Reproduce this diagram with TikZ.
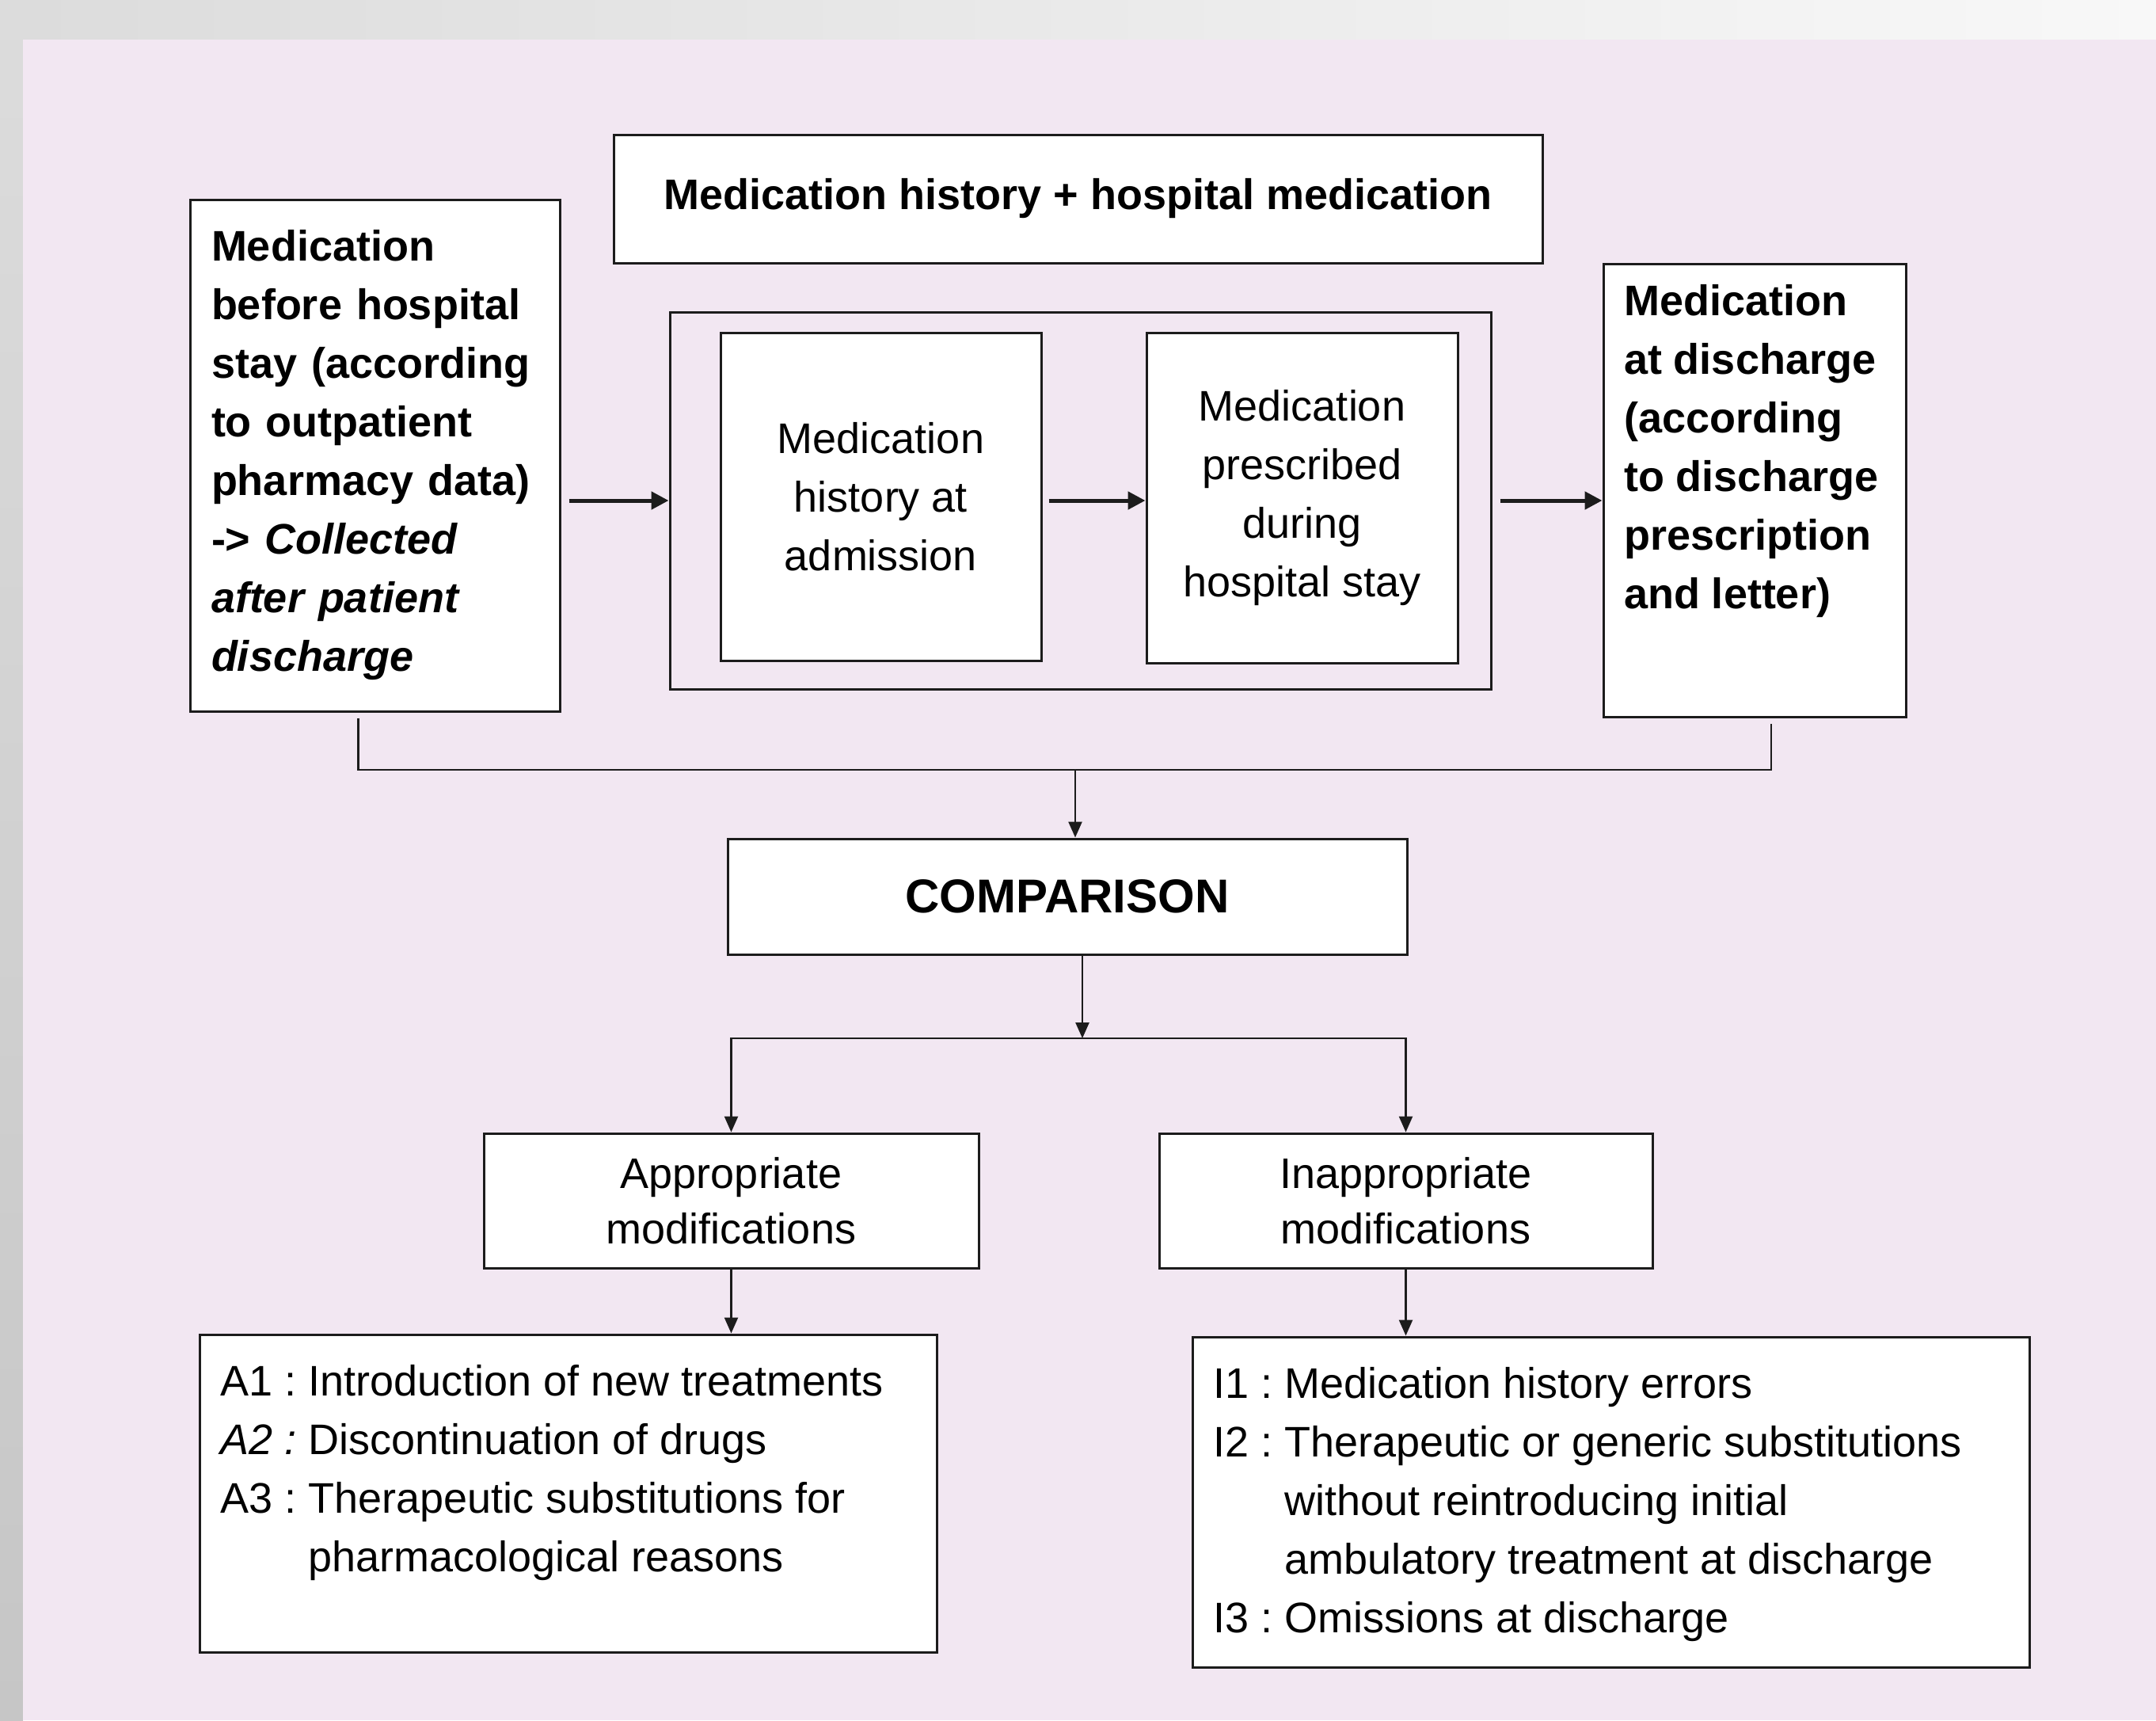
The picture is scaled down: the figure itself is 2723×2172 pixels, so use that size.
\documentclass[tikz,border=0pt]{standalone}
\usepackage{fontspec}
\setmainfont{Liberation Sans}
\usepackage{tikz}
\usetikzlibrary{arrows.meta,positioning,calc}
\definecolor{panelpink}{RGB}{242,231,242}
\definecolor{framegray}{RGB}{198,198,198}
\definecolor{stripgray}{RGB}{220,220,220}
\definecolor{stripwhite}{RGB}{248,248,248}
\definecolor{edge}{RGB}{28,28,28}
\newcommand{\boxfont}{\fontsize{54}{74}\selectfont}
\newcommand{\titlefont}{\fontsize{60}{72}\selectfont\bfseries}

\begin{document}
\begin{tikzpicture}[x=1pt, y=-1pt,
  box/.style={rectangle, draw=edge, fill=white, line width=3pt, inner sep=0pt, font=\boxfont},
  flow/.style={draw=edge, line width=5pt, -{Triangle[length=22pt,width=22pt]}},
  link/.style={draw=edge, line width=2.5pt},
  linkarrow/.style={link, -{Triangle[length=20pt,width=17pt]}}]
\useasboundingbox (0,0) rectangle (2723,2172);
\shade[top color=stripgray, bottom color=framegray] (0,0) rectangle (29,2172);
\shade[left color=stripgray, right color=stripwhite] (29,0) rectangle (2723,50);
\fill[panelpink] (29,50) rectangle (2723,2172);

\node[box, font=\boxfont\bfseries, minimum width=467pt, minimum height=646pt, text width=413pt, align=left] (before) at (473.5,575) {Medication\\ before hospital\\ stay (according\\ to outpatient\\ pharmacy data)\\ -> \textit{Collected}\\ \textit{after patient}\\ \textit{discharge}};
\node[box, font=\boxfont\bfseries, minimum width=1173pt, minimum height=162pt] (header) at (1361.5,251) {Medication history + hospital medication};
\node[box, fill=none, minimum width=1037pt, minimum height=476pt] (stay) at (1364.5,632) {};
\node[box, minimum width=405pt, minimum height=414pt, align=center] (admission) at (1112.5,627) {Medication\\ history at\\ admission};
\node[box, minimum width=393pt, minimum height=417pt, align=center] (during) at (1644.5,628.5) {Medication\\ prescribed\\ during\\ hospital stay};
\node[box, font=\boxfont\bfseries, inner sep=26pt] (discharge) at (2216,619) {\parbox[c][520pt][t]{330pt}{\raggedright Medication\\ at discharge\\ (according\\ to discharge\\ prescription\\ and letter)}};
\node[box, font=\titlefont, minimum width=858pt, minimum height=146pt] (comparison) at (1348,1132) {COMPARISON};
\node[box, font=\fontsize{54}{70}\selectfont, minimum width=625pt, minimum height=170pt, align=center] (appropriate) at (923.5,1516) {Appropriate\\ modifications};
\node[box, font=\fontsize{54}{70}\selectfont, minimum width=623pt, minimum height=170pt, align=center] (inappropriate) at (1775.5,1516) {Inappropriate\\ modifications};
\node[box, inner sep=26pt] (alist) at (717.5,1885.5) {\parbox[c][349pt][t]{879pt}{\begin{tabular}{@{}l@{\ }l@{}}A1 : & Introduction of new treatments\\ \textit{A2 :} & Discontinuation of drugs\\ A3 : & Therapeutic substitutions for\\ & pharmacological reasons\end{tabular}}};
\node[box, inner sep=26pt] (ilist) at (2034.5,1896.5) {\parbox[c][365pt][t]{1005pt}{\begin{tabular}{@{}l@{\ }l@{}}I1 : & Medication history errors\\ I2 : & Therapeutic or generic substitutions\\ & without reintroducing initial\\ & ambulatory treatment at discharge\\ I3 : & Omissions at discharge\end{tabular}}};

\coordinate (bus) at (1358,972);
\coordinate (split) at (1367,1311);
\draw[flow, shorten <=10pt] (before.east |- stay.west) -- (stay.west);
\draw[flow, shorten <=8pt] (admission.east |- stay.west) -- (during.west |- stay.west);
\draw[flow, shorten <=10pt] (stay.east) -- (discharge.west |- stay.east);
\draw[link, shorten <=7pt, shorten >=7pt] ([xshift=-21pt]before.south) |- (bus) -| ([xshift=21pt]discharge.south);
\draw[linkarrow] (bus) -- (bus |- comparison.north);
\draw[linkarrow] (split |- comparison.south) -- (split);
\draw[linkarrow] (split) -| (appropriate.north);
\draw[linkarrow] (split) -| (inappropriate.north);
\draw[linkarrow] (appropriate.south) -- (appropriate.south |- alist.north);
\draw[linkarrow] (inappropriate.south) -- (inappropriate.south |- ilist.north);
\end{tikzpicture}
\end{document}
